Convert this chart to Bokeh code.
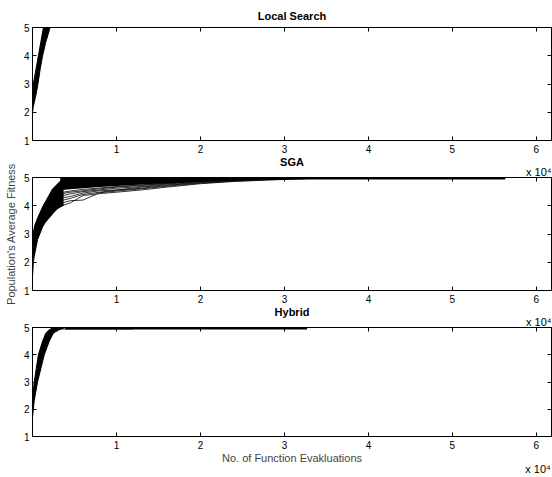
from bokeh.plotting import figure
from bokeh.layouts import column
from bokeh.models import Range1d, LinearAxis, FixedTicker, Title
from bokeh.embed import file_html
from bokeh.resources import INLINE

FONT = "Liberation Sans"
X_TICKS = [1, 2, 3, 4, 5, 6]
Y_TICKS = [1, 2, 3, 4, 5]
X_MAX = 6.18
EXP_TEXT = "x 10\u2074"
EXP_POS = 6.02

# ---- Local Search: dense band of runs (x in 1e4 evaluations, per fitness level)
LS_Y = [2.0, 2.2, 2.6, 3.0, 3.5, 4.0, 4.5, 5.0]
LS_XLO = [0.0, 0.0, 0.0, 0.01, 0.04, 0.07, 0.10, 0.13]
LS_XHI = [0.0, 0.01, 0.04, 0.065, 0.09, 0.12, 0.16, 0.21]

# ---- SGA: dense early band
SGA_BX = [0.0, 0.01, 0.02, 0.06, 0.12, 0.15, 0.23, 0.25, 0.30, 0.37]
SGA_BLO = [1.5, 2.0, 2.2, 2.8, 3.25, 3.4, 3.68, 3.75, 3.9, 4.02]
SGA_BHI = [3.0, 3.15, 3.3, 3.6, 4.0, 4.15, 4.58, 4.65, 4.8, 5.0]
# ---- SGA: dense upper mass of runs
SGA_DX = [0.33, 0.45, 0.60, 0.80, 1.00, 1.30, 1.60, 2.00, 2.40, 2.80, 3.20, 3.60]
SGA_DLO = [4.55, 4.58, 4.62, 4.66, 4.70, 4.75, 4.80, 4.85, 4.90, 4.93, 4.96, 5.00]
SGA_DHI = [5.00, 5.00, 5.00, 5.00, 5.00, 5.00, 5.00, 5.00, 5.00, 5.00, 5.00, 5.00]
# ---- SGA: individual slower runs
SGA_RX = [0.30, 0.45, 0.60, 0.80, 1.00, 1.30, 1.60, 2.00, 2.40, 2.80, 3.20, 3.60]
SGA_RUNS = [
    [3.95, 4.10, 4.36, 4.43, 4.48, 4.56, 4.66, 4.78, 4.86, 4.91, 4.95, 5.00],
    [4.05, 4.18, 4.20, 4.46, 4.52, 4.60, 4.69, 4.80, 4.87, 4.92, 4.96, 5.00],
    [4.15, 4.26, 4.40, 4.48, 4.55, 4.62, 4.72, 4.82, 4.89, 4.93, 4.97, 5.00],
    [4.25, 4.33, 4.45, 4.53, 4.56, 4.66, 4.74, 4.84, 4.90, 4.94, 4.98, 5.00],
    [4.32, 4.42, 4.50, 4.56, 4.62, 4.68, 4.77, 4.86, 4.91, 4.95, 4.99, 5.00],
    [4.40, 4.48, 4.53, 4.60, 4.66, 4.72, 4.79, 4.87, 4.92, 4.96, 5.00, 5.00],
    [4.45, 4.52, 4.58, 4.63, 4.68, 4.74, 4.80, 4.88, 4.92, 4.96, 5.00, 5.00],
]
SGA_TOP_X = [0.37, 5.63]
SGA_TOP_Y = [5.0, 5.0]

# ---- Hybrid
HY_Y = [1.7, 2.3, 3.0, 3.5, 4.0, 4.5, 4.8, 4.92, 5.0]
HY_XLO = [0.0, 0.0, 0.02, 0.045, 0.07, 0.12, 0.16, 0.20, 0.25]
HY_XHI = [0.0, 0.02, 0.06, 0.10, 0.14, 0.20, 0.25, 0.32, 0.39]
HY_TAIL_X = [[0.30, 1.20], [0.30, 0.70]]
HY_TAIL_Y = [[4.93, 4.93], [4.96, 4.96]]
HY_TOP_X = [0.39, 3.27]
HY_TOP_Y = [5.0, 5.0]


def style_axis(ax):
    ax.major_tick_in = 4
    ax.major_tick_out = 0
    ax.minor_tick_line_color = None
    ax.axis_line_color = "black"
    ax.major_tick_line_color = "black"
    ax.major_label_text_font = FONT
    ax.major_label_text_font_size = "10px"
    ax.major_label_text_color = "black"


def make_fig(height, top, bottom):
    p = figure(width=552, height=height, x_range=Range1d(0, X_MAX), y_range=Range1d(1, 5),
               output_backend="svg", toolbar_location=None,
               min_border_left=32, min_border_right=1, min_border_top=top, min_border_bottom=bottom)
    p.grid.visible = False
    p.outline_line_color = "black"
    p.outline_line_width = 1
    p.outline_line_alpha = 1
    p.background_fill_color = "white"
    p.border_fill_color = "white"
    xb = p.xaxis[0]
    yl = p.yaxis[0]
    xb.ticker = FixedTicker(ticks=X_TICKS)
    yl.ticker = FixedTicker(ticks=Y_TICKS)
    style_axis(xb)
    style_axis(yl)
    xb.major_label_standoff = 4
    yl.major_label_standoff = 3
    for loc, tk in (("above", X_TICKS), ("right", Y_TICKS)):
        ax = LinearAxis(ticker=FixedTicker(ticks=tk),
                        major_label_overrides={t: "" for t in tk},
                        major_label_standoff=0)
        style_axis(ax)
        ax.major_label_text_color = None
        p.add_layout(ax, loc)
    return p, xb, yl


def add_title(p, text, loc, align, standoff, bold, size, valign="bottom"):
    p.add_layout(Title(text=text, align=align, standoff=standoff, text_font=FONT,
                       text_font_size=size, text_font_style="bold" if bold else "normal",
                       text_color="black", vertical_align=valign), loc)


# Panel 1 : Local Search
p1, x1, y1 = make_fig(157, 27, 17)
add_title(p1, "Local Search", "above", "center", 8, True, "11px", valign="top")
p1.harea(y=LS_Y, x1=LS_XLO, x2=LS_XHI, fill_color="black")
p1.line(x=LS_XLO, y=LS_Y, line_color="black", line_width=1)
p1.line(x=LS_XHI, y=LS_Y, line_color="black", line_width=1)

# Panel 2 : SGA
p2, x2, y2 = make_fig(150, 20, 17)
add_title(p2, EXP_TEXT, "above", "right", 0, False, "11px")
add_title(p2, "SGA", "above", "center", -9, True, "11px")
p2.varea(x=SGA_BX, y1=SGA_BLO, y2=SGA_BHI, fill_color="black")
p2.line(x=SGA_BX, y=SGA_BLO, line_color="black", line_width=1)
p2.varea(x=SGA_DX, y1=SGA_DLO, y2=SGA_DHI, fill_color="black")
p2.multi_line(xs=[SGA_RX] * len(SGA_RUNS), ys=SGA_RUNS, line_color="black", line_width=0.8)
p2.line(x=SGA_TOP_X, y=SGA_TOP_Y, line_color="black", line_width=4)
y2.axis_label = "Population's Average Fitness"
y2.axis_label_text_font = FONT
y2.axis_label_text_font_size = "11px"
y2.axis_label_text_font_style = "normal"
y2.axis_label_standoff = 4

# Panel 3 : Hybrid
p3, x3, y3 = make_fig(170, 20, 38)
add_title(p3, EXP_TEXT, "above", "right", 0, False, "11px")
add_title(p3, "Hybrid", "above", "center", -9, True, "11px")
p3.harea(y=HY_Y, x1=HY_XLO, x2=HY_XHI, fill_color="black")
p3.line(x=HY_XLO, y=HY_Y, line_color="black", line_width=1)
p3.line(x=HY_XHI, y=HY_Y, line_color="black", line_width=1)
p3.multi_line(xs=HY_TAIL_X, ys=HY_TAIL_Y, line_color="black", line_width=0.7, line_alpha=0.6)
p3.line(x=HY_TOP_X, y=HY_TOP_Y, line_color="black", line_width=4)
x3.axis_label = "No. of Function Evakluations"
x3.axis_label_text_font = FONT
x3.axis_label_text_font_size = "11px"
x3.axis_label_text_font_style = "normal"
x3.axis_label_standoff = 0
exp_axis = LinearAxis(ticker=FixedTicker(ticks=[EXP_POS]),
                      major_label_overrides={EXP_POS: EXP_TEXT},
                      major_label_standoff=-4, axis_line_color=None,
                      major_tick_line_color=None, minor_tick_line_color=None,
                      major_tick_in=0, major_tick_out=0,
                      major_label_text_font=FONT, major_label_text_font_size="11px",
                      major_label_text_color="black")
p3.add_layout(exp_axis, "below")

layout = column(p1, p2, p3, spacing=0)
open("out.html", "w").write(file_html(layout, INLINE))
